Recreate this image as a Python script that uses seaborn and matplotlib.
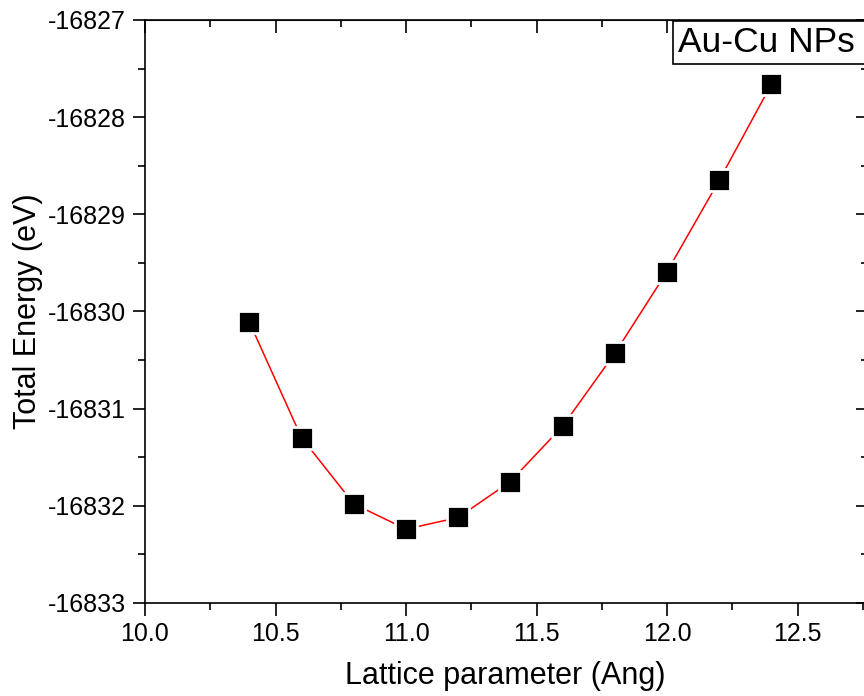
import numpy as np
import pandas as pd
import matplotlib
matplotlib.use("Agg")
import matplotlib.pyplot as plt
import seaborn as sns
from matplotlib.patches import Rectangle

# values
lattice = [10.4, 10.6, 10.8, 11.0, 11.2, 11.4, 11.6, 11.8, 12.0, 12.2, 12.4]
energy = [-16830.11, -16831.30, -16831.98, -16832.24, -16832.12, -16831.75,
          -16831.18, -16830.43, -16829.59, -16828.65, -16827.66]
xticks = [10.0, 10.5, 11.0, 11.5, 12.0, 12.5]
yticks = [-16833, -16832, -16831, -16830, -16829, -16828, -16827]

df = pd.DataFrame({"lattice": lattice, "energy": energy})

sns.set_style("white")
plt.rcParams["font.family"] = ["Liberation Sans", "DejaVu Sans"]
plt.rcParams["text.color"] = "black"
plt.rcParams["axes.labelcolor"] = "black"
plt.rcParams["xtick.color"] = "black"
plt.rcParams["ytick.color"] = "black"

fig = plt.figure(figsize=(8.64, 6.96), dpi=100)
# right spine sits just off the canvas, like the cropped original
ax = fig.add_axes([145 / 864, 1 - 603 / 696, (868 - 145) / 864, (603 - 20) / 696])

sns.lineplot(data=df, x="lattice", y="energy", color="red", linewidth=1.1, ax=ax)
sns.scatterplot(data=df, x="lattice", y="energy", marker="s", s=230, color="black",
                edgecolor="white", linewidth=2.0, zorder=3, ax=ax)

ax.set_xlim(10.0, 12.77)
ax.set_ylim(-16833, -16827)
ax.set_xticks(xticks)
ax.set_yticks(yticks)
ax.set_xticklabels([f"{v:.1f}" for v in xticks])
ax.set_yticklabels([str(v) for v in yticks])
ax.xaxis.set_minor_locator(matplotlib.ticker.MultipleLocator(0.25))
ax.yaxis.set_minor_locator(matplotlib.ticker.MultipleLocator(0.5))

ax.tick_params(which="major", direction="out", length=9, width=1.2, labelsize=18,
               bottom=True, left=True, top=False, right=False, pad=5)
ax.tick_params(which="minor", direction="out", length=5, width=1.2,
               bottom=True, left=True, top=False, right=False)

for s in ax.spines.values():
    s.set_linewidth(1.2)
    s.set_color("black")

# mirrored inward ticks on top and right
top = ax.secondary_xaxis("top")
top.set_xticks(xticks)
top.xaxis.set_minor_locator(matplotlib.ticker.MultipleLocator(0.25))
top.tick_params(which="major", direction="in", length=9, width=1.2, labeltop=False)
top.tick_params(which="minor", direction="in", length=5, width=1.2)
right = ax.secondary_yaxis("right")
right.set_yticks(yticks)
right.yaxis.set_minor_locator(matplotlib.ticker.MultipleLocator(0.5))
right.tick_params(which="major", direction="in", length=9, width=1.2, labelright=False)
right.tick_params(which="minor", direction="in", length=5, width=1.2)

ax.set_xlabel("Lattice parameter (Ang)", fontsize=22)
ax.set_ylabel("Total Energy (eV)", fontsize=22)
ax.xaxis.set_label_coords((505 - 145) / 723, -58 / 583)
ax.yaxis.set_label_coords(-102 / 723, 0.5)

# legend box, running off the right edge like the original
fig.patches.append(Rectangle((673 / 864, 1 - 64 / 696), 200 / 864, 43 / 696,
                             transform=fig.transFigure, facecolor="white",
                             edgecolor="black", linewidth=1.2, zorder=5))
fig.text(678 / 864, 1 - 43 / 696, "Au-Cu NPs", fontsize=25.5, va="center", ha="left",
         zorder=6)

fig.savefig("out.png", dpi=100)
